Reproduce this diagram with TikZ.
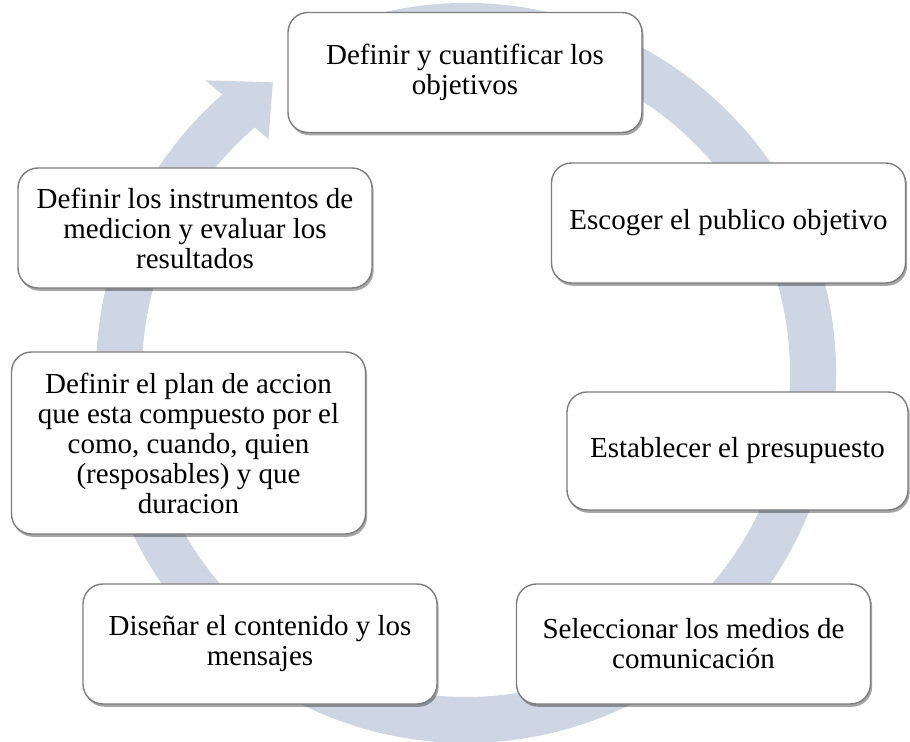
\documentclass[tikz,border=0pt]{standalone}
\usepackage{fontspec}
\setmainfont{Liberation Serif}
\usetikzlibrary{shadows}

\definecolor{anillo}{RGB}{206,214,228}
\definecolor{borde}{RGB}{125,125,125}

\tikzset{
  caja/.style={draw=borde,line width=0.7pt,fill=white,rounded corners=10pt,
    minimum width=177pt,minimum height=60pt,inner sep=2pt,align=center,
    font=\fontsize{14.5}{15}\selectfont,
    drop shadow={shadow xshift=0.8pt,shadow yshift=-1.4pt,opacity=0.35,fill=black}},
  flecha/.style={fill=anillo}
}

\begin{document}
\begin{tikzpicture}[x=0.5pt,y=-0.5pt]

\useasboundingbox (0,0) rectangle (910,742);

\coordinate (c) at (466,373);

% flecha circular
\begin{scope}[shift={(c)}]
\fill[flecha] (-105:370) arc[start angle=-105,end angle=228.8,radius=370]
  -- (228.3:392) -- (236.4:349) -- (229.8:306) -- (229.3:324)
  arc[start angle=229.3,end angle=-105,radius=324] -- cycle;
\end{scope}

\node[caja] (obj) at (465,72.5) {Definir y cuantificar los\\objetivos};
\node[caja] (pub) at (728.5,223) {Escoger el publico objetivo};
\node[caja,minimum width=170.5pt,minimum height=59pt] (pres) at (737.5,451) {Establecer el presupuesto};
\node[caja] (med) at (693.5,644) {Seleccionar los medios de\\comunicación};
\node[caja] (cont) at (260,644) {Diseñar el contenido y los\\mensajes};
\node[caja,minimum height=91pt] (plan) at (188.5,443) {Definir el plan de accion\\que esta compuesto por el\\como, cuando, quien\\(resposables) y que\\duracion};
\node[caja] (eval) at (195,228) {Definir los instrumentos de\\medicion y evaluar los\\resultados};

\end{tikzpicture}
\end{document}
